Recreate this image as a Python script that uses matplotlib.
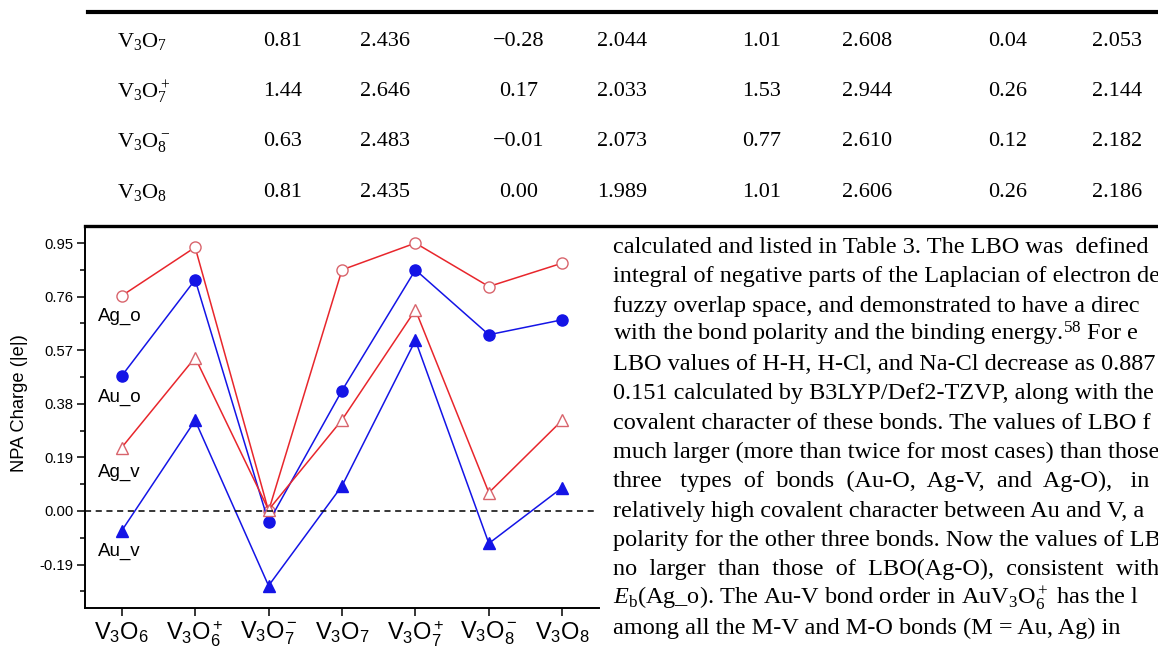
import matplotlib
matplotlib.use("Agg")
import matplotlib.pyplot as plt
from matplotlib.lines import Line2D
from matplotlib.ticker import FixedLocator

W, H = 1158, 650

plt.rcParams['font.family'] = ['Liberation Sans', 'DejaVu Sans']
plt.rcParams['mathtext.fontset'] = 'custom'
plt.rcParams['mathtext.rm'] = 'Liberation Serif'
plt.rcParams['mathtext.it'] = 'Liberation Serif:italic'

# ---- table (upper part of page) ----
row_labels = [r'$\mathregular{V_3O_7}$', r'$\mathregular{V_3O_7^+}$',
              r'$\mathregular{V_3O_8^-}$', r'$\mathregular{V_3O_8}$']
table_rows = [
    ["0.81", "2.436", "\u22120.28", "2.044", "1.01", "2.608", "0.04", "2.053"],
    ["1.44", "2.646", "0.17", "2.033", "1.53", "2.944", "0.26", "2.144"],
    ["0.63", "2.483", "\u22120.01", "2.073", "0.77", "2.610", "0.12", "2.182"],
    ["0.81", "2.435", "0.00", "1.989", "1.01", "2.606", "0.26", "2.186"],
]

# ---- chart data ----
species = [r'$\mathregular{V_3O_6}$', r'$\mathregular{V_3O_6^+}$', r'$\mathregular{V_3O_7^-}$',
           r'$\mathregular{V_3O_7}$', r'$\mathregular{V_3O_7^+}$', r'$\mathregular{V_3O_8^-}$',
           r'$\mathregular{V_3O_8}$']
ag_o = [0.763, 0.935, 0.00, 0.855, 0.950, 0.796, 0.879]
au_o = [0.479, 0.820, -0.040, 0.427, 0.855, 0.625, 0.678]
ag_v = [0.225, 0.544, 0.004, 0.323, 0.713, 0.065, 0.322]
au_v = [-0.070, 0.321, -0.265, 0.089, 0.605, -0.115, 0.083]
yticks = [-0.19, 0.00, 0.19, 0.38, 0.57, 0.76, 0.95]

# ---- body text (right of chart) ----
body_lines = [
    "calculated and listed in Table 3. The LBO was  defined",
    "integral of negative parts of the Laplacian of electron de",
    "fuzzy overlap space, and demonstrated to have a direc",
    r"with the bond polarity and the binding energy.$\mathregular{^{58}}$ For e",
    "LBO values of H-H, H-Cl, and Na-Cl decrease as 0.887",
    "0.151 calculated by B3LYP/Def2-TZVP, along with the",
    "covalent character of these bonds. The values of LBO f",
    "much larger (more than twice for most cases) than those",
    "three   types  of  bonds  (Au-O,  Ag-V,  and  Ag-O),   in",
    "relatively high covalent character between Au and V, a",
    "polarity for the other three bonds. Now the values of LBO",
    "no  larger  than  those  of  LBO(Ag-O),  consistent  with",
    r"$E_\mathregular{b}$(Ag_o). The Au-V bond order in AuV$\mathregular{_3O_6^+}$ has the l",
    "among all the M-V and M-O bonds (M = Au, Ag) in",
]


def fx(x):
    return x / W


def fy(y):
    return 1 - y / H


fig = plt.figure(figsize=(W / 100, H / 100), dpi=100)
serif = ['Liberation Serif', 'DejaVu Serif']

# table rules
fig.add_artist(Line2D([fx(88), 1], [fy(12), fy(12)], color='black', lw=3))
fig.add_artist(Line2D([fx(85), 1], [fy(226), fy(226)], color='black', lw=2.4))

col_x = [283, 385, 519, 622, 762, 867, 1008, 1117]
row_y = [41, 92, 142, 193]
for lab, vals, y in zip(row_labels, table_rows, row_y):
    fig.text(fx(117), fy(y), lab, family=serif, fontsize=16, ha='left', va='center')
    for v, x in zip(vals, col_x):
        fig.text(fx(x), fy(y), v, family=serif, fontsize=16, ha='center', va='center')

for i, line in enumerate(body_lines):
    fig.text(fx(613), fy(253 + 29.3 * i), line, family=serif, fontsize=17.5,
             ha='left', va='baseline')

# chart
ax = fig.add_axes([fx(85), fy(608), (599 - 85) / W, (608 - 227) / H])
xs = list(range(len(species)))
red = '#e8262c'
red_mk = '#d8646c'
blue = '#1414e6'
ax.plot(xs, ag_o, color=red, lw=1.1, marker='o', ms=8, mfc='white', mec=red_mk, mew=1.0)
ax.plot(xs, au_o, color=blue, lw=1.1, marker='o', ms=8, mfc=blue, mec=blue)
ax.plot(xs, ag_v, color=red, lw=1.1, marker='^', ms=9, mfc='white', mec=red_mk, mew=1.0)
ax.plot(xs, au_v, color=blue, lw=1.1, marker='^', ms=9, mfc=blue, mec=blue)
ax.axhline(0, xmax=0.992, color='black', lw=1.1, ls=(0, (4, 3)))

ax.set_xlim(-0.5, 6.5)
ax.set_ylim(-0.344, 1.007)
ax.set_xticks(xs)
ax.set_xticklabels(species, fontsize=17)
ax.set_yticks(yticks)
ax.set_yticklabels([f"{t:.2f}" for t in yticks], fontsize=10.7)
ax.yaxis.set_minor_locator(FixedLocator([-0.285, -0.095, 0.095, 0.285, 0.475, 0.665, 0.855]))
ax.tick_params(axis='both', which='major', direction='out', length=5.5, width=1.1, pad=3)
ax.tick_params(axis='y', which='minor', direction='out', length=3.5, width=1.1)
ax.tick_params(axis='x', pad=3)
ax.spines['right'].set_visible(False)
for s in ['left', 'bottom', 'top']:
    ax.spines[s].set_linewidth(1.4)

for name, yv in [("Ag_o", 0.691), ("Au_o", 0.404), ("Ag_v", 0.138), ("Au_v", -0.142)]:
    ax.text(-0.33, yv, name, fontsize=13.5, ha='left', va='center')

fig.text(fx(20), fy(403), "NPA Charge (|e|)", rotation=90, fontsize=13.2,
         ha='center', va='center')

fig.savefig("out.png", dpi=100)
